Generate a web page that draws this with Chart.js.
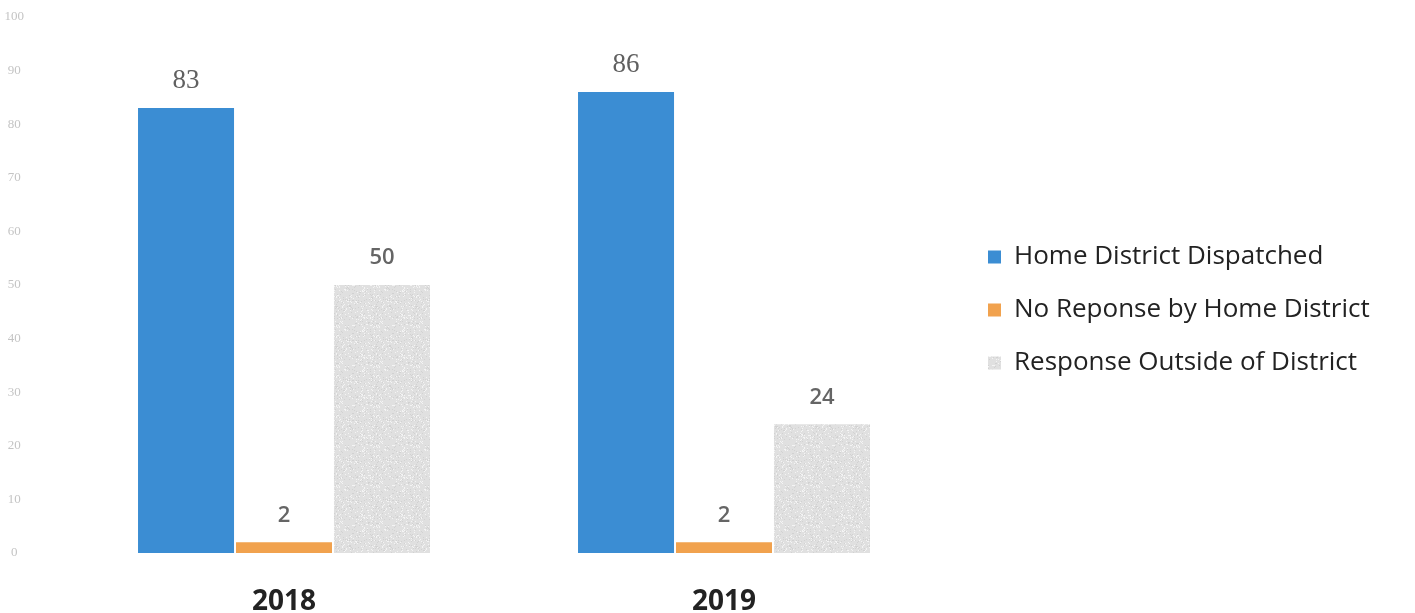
<!DOCTYPE html>
<html>
<head>
<meta charset="utf-8">
<script src="https://cdn.jsdelivr.net/npm/chart.js@4.4.1/dist/chart.umd.min.js"></script>
<style>
html,body{margin:0;padding:0;background:#fff;}
#wrap{width:1415px;height:613px;position:relative;}
</style>
</head>
<body>
<div id="wrap"><canvas id="c" width="1415" height="613"></canvas></div>
<script>
const categories = ['2018', '2019'];
const seriesNames = ['Home District Dispatched', 'No Reponse by Home District', 'Response Outside of District'];
const homeDispatched = [83, 86];
const noResponse = [2, 2];
const outsideResponse = [50, 24];
const yTicks = [0, 10, 20, 30, 40, 50, 60, 70, 80, 90, 100];

function speckle() {
  const c = document.createElement('canvas');
  c.width = 40; c.height = 40;
  const g = c.getContext('2d');
  g.fillStyle = '#e0e0e0';
  g.fillRect(0, 0, 40, 40);
  for (let y = 0; y < 40; y++) {
    for (let x = 0; x < 40; x++) {
      const h = (((x * 2654435761) ^ (y * 40503 + x * y * 97)) >>> 0) % 11;
      if (h === 0) { g.fillStyle = '#f4f4f4'; g.fillRect(x, y, 1, 1); }
      else if (h === 1) { g.fillStyle = '#d2d2d2'; g.fillRect(x, y, 1, 1); }
    }
  }
  return g.createPattern(c, 'repeat');
}
const grayFill = speckle();

const PLOT_RIGHT = 944;
const LEGEND_LEFT = 961;
const LEGEND_SHIFT_Y = -5;

const valueLabels = {
  id: 'valueLabels',
  afterLayout(chart) {
    const lg = chart.legend;
    if (lg) {
      const w = lg.right - lg.left;
      lg.left = LEGEND_LEFT; lg.right = LEGEND_LEFT + w;
      lg.top += LEGEND_SHIFT_Y; lg.bottom += LEGEND_SHIFT_Y;
    }
  },
  afterDatasetsDraw(chart) {
    const ctx = chart.ctx;
    ctx.save();
    ctx.textAlign = 'center';
    ctx.textBaseline = 'middle';
    chart.data.datasets.forEach((ds, i) => {
      const meta = chart.getDatasetMeta(i);
      meta.data.forEach((bar, j) => {
        if (i === 0) { ctx.font = '27px "Liberation Serif"'; ctx.fillStyle = '#606060'; }
        else { ctx.font = '600 22px "Open Sans"'; ctx.fillStyle = '#656565'; }
        ctx.fillText(String(ds.data[j]), bar.x, bar.y - 27);
      });
    });
    ctx.restore();
  }
};

const chart = new Chart(document.getElementById('c'), {
  type: 'bar',
  data: {
    labels: categories,
    datasets: [
      { label: seriesNames[0], data: homeDispatched, backgroundColor: '#3b8dd3' },
      { label: seriesNames[1], data: noResponse, backgroundColor: '#f1a24e' },
      { label: seriesNames[2], data: outsideResponse, backgroundColor: grayFill }
    ]
  },
  options: {
    responsive: false,
    animation: false,
    devicePixelRatio: 1,
    layout: { padding: { top: 17, bottom: 0, left: 0, right: 0 } },
    datasets: { bar: { categoryPercentage: 0.668, barPercentage: 0.98 } },
    plugins: {
      tooltip: { enabled: false },
      legend: {
        position: 'right',
        labels: {
          boxWidth: 13, boxHeight: 13, padding: 27,
          color: '#222',
          font: { family: 'Open Sans', size: 26 }
        }
      }
    },
    scales: {
      x: {
        grid: { display: false, drawTicks: false },
        border: { display: false },
        afterFit: s => { s.height = 60; },
        ticks: { color: '#222', padding: 32, font: { family: 'Open Sans', size: 28, weight: 'bold' } }
      },
      y: {
        min: 0, max: 100,
        afterBuildTicks: s => { s.ticks = yTicks.map(v => ({ value: v })); },
        afterFit: s => { s.width = 64; s.paddingTop = 0; s.paddingBottom = 0; },
        grid: { display: false, drawTicks: false },
        border: { display: false },
        ticks: { color: '#c4c4c4', padding: 40, crossAlign: 'center', font: { family: 'Liberation Serif', size: 13 } }
      },
      gap: {
        position: 'right',
        display: true,
        afterFit: s => {
          const lw = (s.chart.legend && s.chart.legend.width) ? s.chart.legend.width : 440;
          s.width = Math.max(0, 1415 - PLOT_RIGHT - lw);
        },
        grid: { display: false, drawTicks: false },
        border: { display: false },
        ticks: { display: false }
      }
    }
  },
  plugins: [valueLabels]
});

// let the legend take the width it needs on the right
const lg = chart.legend;
const baseUpdate = lg.update.bind(lg);
lg.update = (mw, mh, m) => baseUpdate(Math.max(mw, 520), mh, m);
chart.update();
chart.update();
</script>
</body>
</html>
